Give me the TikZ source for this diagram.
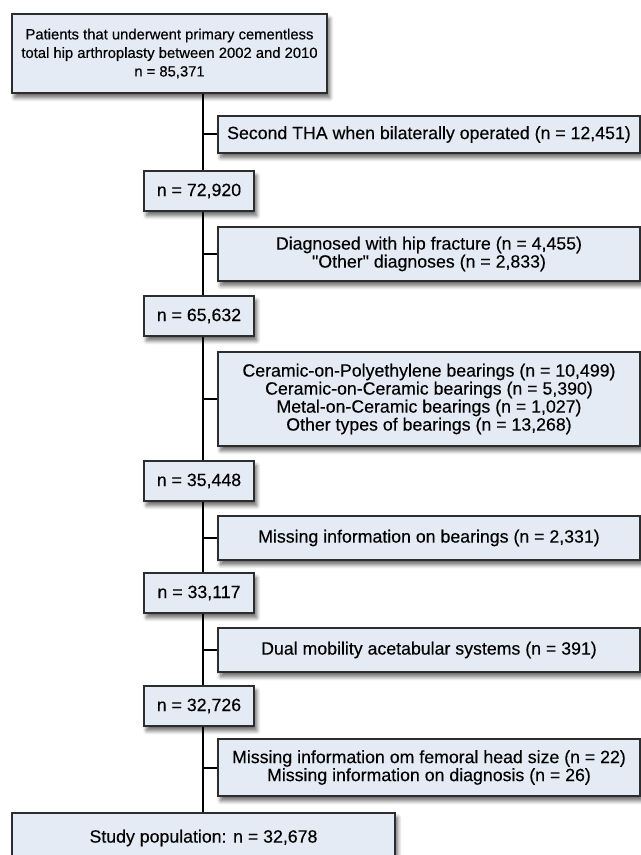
\documentclass[tikz,border=0pt]{standalone}
\usepackage{fontspec}
\newfontfamily\boxfont{Liberation Sans}[FakeBold=0.3]
\usetikzlibrary{shadows.blur,backgrounds}

\definecolor{boxfill}{RGB}{229,235,245}
\definecolor{boxline}{RGB}{45,45,45}

\tikzset{
  flowbox/.style={draw=boxline, line width=0.9pt, fill=boxfill, inner sep=0pt,
    align=center, font=\boxfont\fontsize{13.3}{13.5}\selectfont,
    blur shadow={shadow xshift=2pt, shadow yshift=-3.5pt, shadow blur steps=6,
      shadow blur radius=3pt, shadow opacity=60}},
  nbox/.style={flowbox, minimum width=82.5pt, minimum height=30pt},
  exbox/.style={flowbox, minimum width=316.5pt},
  spine/.style={line width=1.5pt, black}
}

\begin{document}
\begin{tikzpicture}[x=0.75pt, y=-0.75pt]

 \useasboundingbox (0,0) rectangle (641,855);
 \clip (0,0) rectangle (641,855);

% Cohort boxes (left column)
 \node[flowbox, minimum width=236.25pt, minimum height=59.25pt,
   font=\boxfont\fontsize{11.1}{13.9}\selectfont] (top) at (169.5,53.5)
   {Patients that underwent primary cementless\\
    total hip arthroplasty between 2002 and 2010\\
    n = 85,371};
 \node[nbox] (n1) at (199,191) {n = 72,920};
 \node[nbox] (n2) at (199,316) {n = 65,632};
 \node[nbox] (n3) at (199,481) {n = 35,448};
 \node[nbox] (n4) at (199,593) {n = 33,117};
 \node[nbox] (n5) at (199,706) {n = 32,726};
 \node[flowbox, minimum width=287.25pt, minimum height=37.5pt] (study) at (203.5,838)
   {Study population: n = 32,678};

% Exclusion boxes (right column)
 \node[exbox, minimum height=27.75pt] (ex1) at (429,134.5)
   {Second THA when bilaterally operated (n = 12,451)};
 \node[exbox, minimum height=40.5pt] (ex2) at (429,254)
   {Diagnosed with hip fracture (n = 4,455)\\
    "Other" diagnoses (n = 2,833)};
 \node[exbox, minimum height=70.5pt] (ex3) at (429,399)
   {Ceramic-on-Polyethylene bearings (n = 10,499)\\
    Ceramic-on-Ceramic bearings (n = 5,390)\\
    Metal-on-Ceramic bearings (n = 1,027)\\
    Other types of bearings (n = 13,268)};
 \node[exbox, minimum height=33pt] (ex4) at (429,538)
   {Missing information on bearings (n = 2,331)};
 \node[exbox, minimum height=33pt] (ex5) at (429,650)
   {Dual mobility acetabular systems (n = 391)};
 \node[exbox, minimum height=42.75pt] (ex6) at (429,767.5)
   {Missing information om femoral head size (n = 22)\\
    Missing information on diagnosis (n = 26)};

% Main line and side ticks, behind the boxes
 \begin{scope}[on background layer]
 \coordinate (sp) at (203,93);
 \draw[spine] (sp) -- (sp |- study.north);
 \foreach \ex in {ex1,ex2,ex3,ex4,ex5,ex6}
   \draw[spine] (sp |- \ex.west) -- (\ex.west);
 \end{scope}

\end{tikzpicture}
\end{document}
